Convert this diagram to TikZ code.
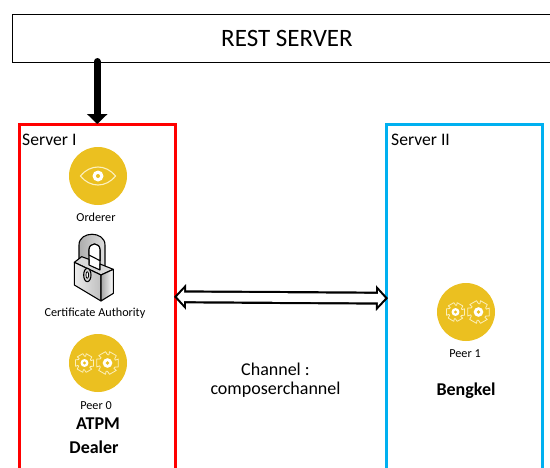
\documentclass[tikz,border=0pt]{standalone}
\usepackage{fontspec}
\setmainfont{Carlito}
\usetikzlibrary{arrows.meta}
\definecolor{srvred}{RGB}{255,0,0}
\definecolor{srvblue}{RGB}{0,176,240}
\definecolor{icongold}{RGB}{235,192,32}
\definecolor{iconline}{RGB}{252,240,190}
\tikzset{
  srvbox/.style={draw,line width=3pt,outer sep=0pt,minimum width=155.5pt,minimum height=380pt,anchor=north west},
  icon/.style={circle,fill=icongold,minimum size=58pt,inner sep=0pt},
  small/.style={font=\fontsize{12.2pt}{14pt}\selectfont,inner sep=0pt},
  srvlabel/.style={font=\fontsize{17.6pt}{20pt}\selectfont,inner sep=0pt,anchor=west},
  midlabel/.style={font=\fontsize{18pt}{21pt}\selectfont,inner sep=0pt},
  orglabel/.style={font=\fontsize{18pt}{21pt}\selectfont\bfseries,inner sep=0pt},
  restarrow/.style={line width=7pt,line cap=round,-{Triangle[length=10pt,width=20pt]}},
  chanouter/.style={line width=13pt,{Triangle[length=12pt,width=25pt]}-{Triangle[length=12pt,width=25pt]}},
  chaninner/.style={line width=8.6pt,white,shorten <=3pt,shorten >=3pt,
    {Triangle[length=7pt,width=15pt]}-{Triangle[length=7pt,width=15pt]}},
  gearline/.style={draw=iconline,line width=.8pt,line join=round}
}
\newcommand{\geardraw}[3]{% x, y, outer radius
  \draw[gearline] ({#1+#3*cos(-20)},{#2+#3*sin(-20)})
    \foreach \a in {0,60,...,300} {
      -- ({#1+#3*cos(\a-20)},{#2+#3*sin(\a-20)})
      -- ({#1+#3*cos(\a+20)},{#2+#3*sin(\a+20)})
      -- ({#1+.72*#3*cos(\a+30)},{#2+.72*#3*sin(\a+30)})
      -- ({#1+.72*#3*cos(\a+40)},{#2+.72*#3*sin(\a+40)})
    } -- cycle;
  \fill[white] (#1,#2) circle ({.42*#3});
  \fill[icongold] (#1,#2) circle ({.16*#3});
}
\newcommand{\gearpair}[2]{% circle centre
  \geardraw{#1-13.5}{#2}{9.5}
  \geardraw{#1+9.5}{#2}{11.5}
}
\begin{document}
\begin{tikzpicture}[x=1pt,y=-1pt]
  \useasboundingbox (0,0) rectangle (550,467);
  \clip (0,0) rectangle (550,467);
  \fill[white] (0,0) rectangle (550,467);

  \node (rest) [draw,line width=1pt,outer sep=0pt,minimum width=550pt,minimum height=48pt,anchor=north west,
    font=\fontsize{25pt}{29pt}\selectfont] at (12,14) {REST SERVER};
  \node (srv1) [srvbox,draw=srvred] at (19.5,124) {};
  \node (srv2) [srvbox,draw=srvblue,minimum width=156pt] at (386.5,124) {};
  \node (srv1txt) [srvlabel] at (22,140) {Server I};
  \node (srv2txt) [srvlabel] at (391,140) {Server II};

  \node (orderer) [icon] at (98,176) {};
  \draw[iconline,line width=1.1pt] (80.5,176) .. controls (90,164) and (106,164) .. (115.5,176)
    .. controls (106,188) and (90,188) .. cycle;
  \fill[white] (98,176) circle (5.5);
  \fill[icongold] (98,176) circle (2);
  \node (orderertxt) [small] at (96,217) {Orderer};

  \begin{scope}[shift={(65,230)},scale=1/3,draw=black,line width=1.1pt,line join=round]
    \path[draw,left color=gray!65,right color=gray!25]
      (42,95) -- (42,45) .. controls (42,2) and (120,2) .. (120,45) -- (120,115) -- (105,122)
      -- (105,60) .. controls (105,36) and (72,36) .. (72,60) -- (72,100) -- cycle;
    \draw[fill=white] (72,75) -- (72,60) .. controls (72,36) and (105,36) .. (105,60) -- (105,92) -- cycle;
    \draw[fill=gray!30] (28,97) -- (50,80) -- (72,88) -- (72,105) -- (105,120) -- (105,102) -- (145,118) -- (108,135) -- cycle;
    \draw[left color=gray!15,right color=gray!50] (28,97) -- (108,135) -- (108,213) -- (28,165) -- cycle;
    \draw[left color=gray!70,right color=white] (108,135) -- (145,118) -- (145,190) -- (108,213) -- cycle;
    \draw[fill=gray!35] (67,135) ellipse (11 and 20);
    \draw[fill=white,line width=.8pt] (67,135) ellipse (4 and 10);
  \end{scope}
  \node (catxt) [small] at (95,313) {Certificate Authority};

  \node (peer0) [icon] at (98,363) {};
  \gearpair{98}{363}
  \node (peer0txt) [small] at (96,406) {Peer 0};
  \node (atpm) [orglabel] at (98,424) {ATPM};
  \node (dealer) [orglabel] at (94,447) {Dealer};

  \node (peer1) [icon] at (466,312) {};
  \gearpair{469}{312}
  \node (peer1txt) [small] at (465,354) {Peer 1};
  \node (bengkel) [orglabel] at (466,391) {Bengkel};

  \node (chan1) [midlabel] at (275.5,369) {Channel :};
  \node (chan2) [midlabel] at (275.5,390) {composerchannel};

  \draw[restarrow] (srv1.north |- rest.south) ++(0,-0.5) -- (srv1.north);
  \coordinate (chanl) at (174,296.8);
  \coordinate (chanr) at (388,298.2);
  \draw[chanouter] (chanl) -- (chanr);
  \draw[chaninner] (chanl) -- (chanr);
\end{tikzpicture}
\end{document}
